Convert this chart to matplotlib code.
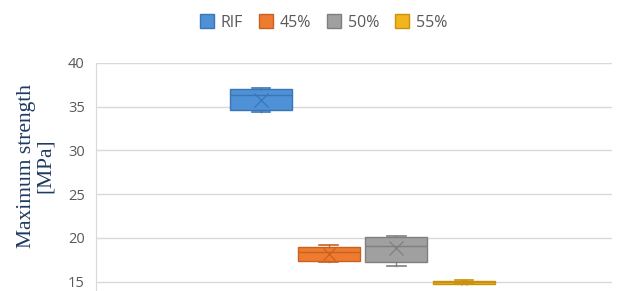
import matplotlib
matplotlib.use("Agg")
import matplotlib.pyplot as plt
from matplotlib.patches import Patch

# ---- data ----
series = ["RIF", "45%", "50%", "55%"]
whis_lo = [34.35, 17.2, 16.85, 14.75]
q1 = [34.65, 17.35, 17.2, 14.78]
median = [36.3, 18.4, 19.1, 14.95]
q3 = [37.0, 19.0, 20.05, 15.08]
whis_hi = [37.1, 19.2, 20.2, 15.15]
mean = [35.8, 18.2, 18.8, 14.95]
yticks = [15, 20, 25, 30, 35, 40]

fills = ["#4F91D6", "#EE7B30", "#A0A0A0", "#F2B51E"]
edges = ["#3A75B5", "#C8621F", "#7F7F7F", "#C9920C"]
mean_sizes = [10, 8, 10, 4]

fig = plt.figure(figsize=(6.22, 2.91), dpi=100)
ax = fig.add_axes([0.1543, 0.0, 0.8296, 0.7845])

stats = []
for i, name in enumerate(series):
    stats.append(dict(label=name, whislo=whis_lo[i], q1=q1[i], med=median[i],
                      q3=q3[i], whishi=whis_hi[i], mean=mean[i], fliers=[]))

positions = list(range(len(series)))
for i, st in enumerate(stats):
    ax.bxp([st], positions=[positions[i]], widths=0.915, capwidths=0.27,
           showmeans=True, patch_artist=True, manage_ticks=False,
           boxprops=dict(facecolor=fills[i], edgecolor=edges[i], linewidth=1.0),
           medianprops=dict(color=edges[i], linewidth=1.0),
           whiskerprops=dict(color=edges[i], linewidth=1.0),
           capprops=dict(color=edges[i], linewidth=1.2),
           meanprops=dict(marker="x", markeredgecolor=edges[i],
                          markersize=mean_sizes[i], markeredgewidth=0.9),
           zorder=3)

ax.set_xlim(-2.43, 5.18)
ax.set_ylim(13.94, 40)
ax.set_yticks(yticks)
ax.set_xticks([])
ax.yaxis.grid(True, color="#D9D9D9", linewidth=1.0)
ax.set_axisbelow(True)
for s in ["top", "right", "bottom"]:
    ax.spines[s].set_visible(False)
ax.spines["left"].set_color("#D9D9D9")
ax.tick_params(axis="y", length=0, pad=8, labelsize=10.5, labelcolor="#595959")
for lab in ax.get_yticklabels():
    lab.set_family("Open Sans")

fig.text(0.058, 0.43, "Maximum strength\n[MPa]", rotation=90, ha="center",
         va="center", family="Liberation Serif", fontsize=15.5, color="#1F3A60",
         linespacing=1.0)

handles = [Patch(facecolor=fills[i], edgecolor=edges[i], label=series[i])
           for i in range(len(series))]
fig.legend(handles=handles, loc="upper center", bbox_to_anchor=(0.52, 1.0),
           ncol=4, frameon=False, handlelength=0.9, handleheight=0.9,
           handletextpad=0.4, columnspacing=1.0,
           prop=dict(family="Open Sans", size=11.5), labelcolor="#595959")

fig.savefig("out.png", dpi=100, facecolor="white")
